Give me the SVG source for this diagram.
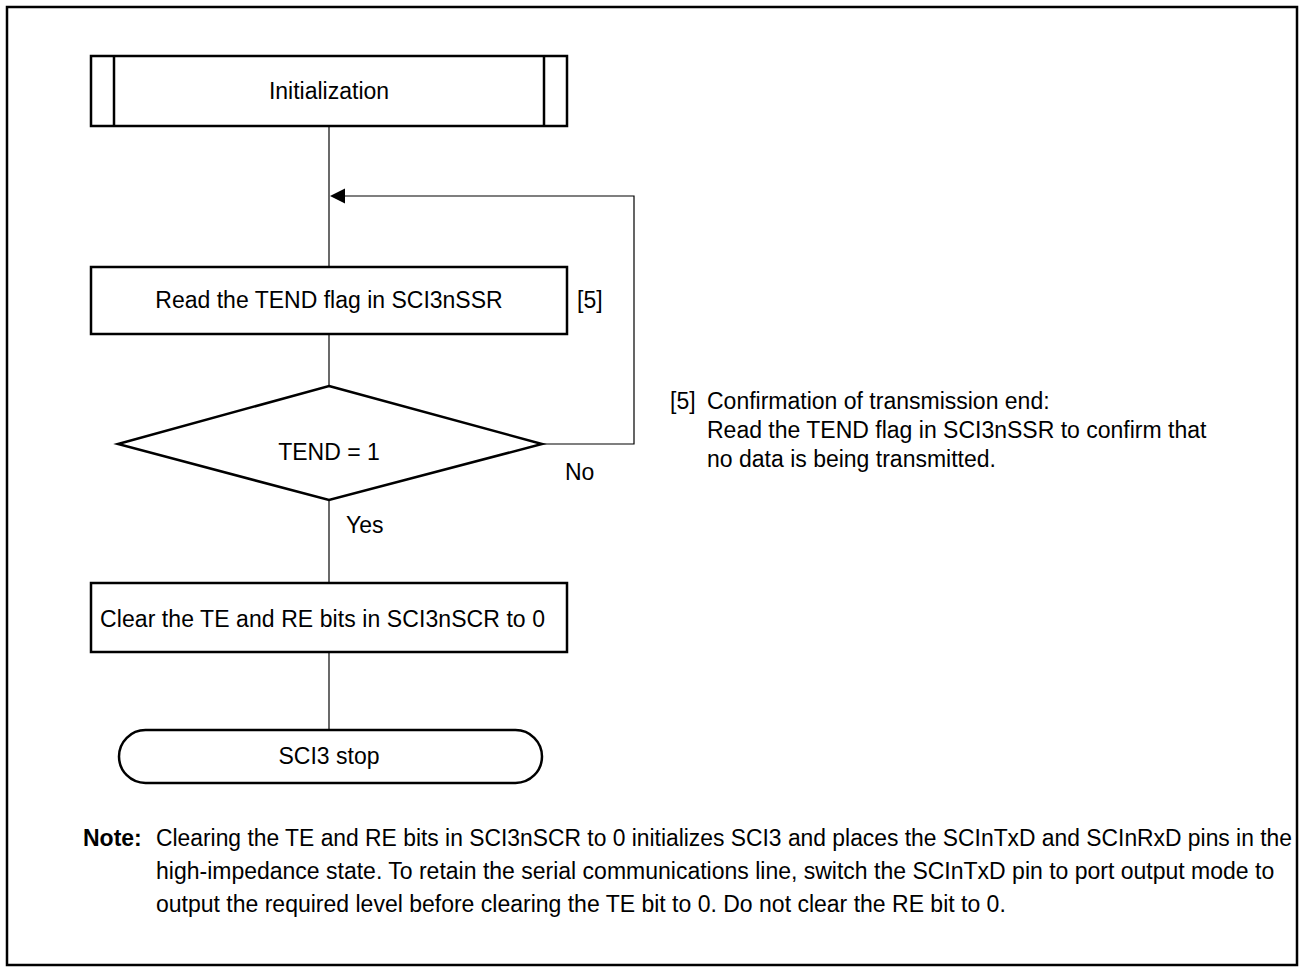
<svg xmlns="http://www.w3.org/2000/svg" width="1304" height="972" viewBox="0 0 1304 972">
<defs>
<style>
.t{font-family:"Liberation Sans",Arial,sans-serif;font-size:23px;fill:#000}
.c{text-anchor:middle}
.box{fill:#fff;stroke:#000;stroke-width:2.5}
.ln{fill:none;stroke:#444;stroke-width:1.6}
.lp{fill:none;stroke:#000;stroke-width:1.2}
</style>
</defs>
<rect x="0" y="0" width="1304" height="972" fill="#fff"/>
<rect x="7" y="7" width="1290" height="958" fill="none" stroke="#000" stroke-width="2.5"/>
<g id="connectors">
<line class="ln" x1="329" y1="126" x2="329" y2="267"/>
<line class="ln" x1="329" y1="334" x2="329" y2="386"/>
<line class="ln" x1="329" y1="500" x2="329" y2="583"/>
<line class="ln" x1="329" y1="652" x2="329" y2="730"/>
<polyline class="lp" points="542,444 634,444 634,196 344,196"/>
<polygon points="330,196 345,188.5 345,203.5" fill="#000"/>
<text class="t" x="565" y="480">No</text>
<text class="t" x="346" y="533">Yes</text>
</g>
<g id="init">
<rect class="box" x="91" y="56" width="476" height="70"/>
<line x1="114" y1="56" x2="114" y2="126" stroke="#000" stroke-width="2.5"/>
<line x1="544" y1="56" x2="544" y2="126" stroke="#000" stroke-width="2.5"/>
<text class="t c" x="329" y="99">Initialization</text>
</g>
<g id="read">
<rect class="box" x="91" y="267" width="476" height="67"/>
<text class="t c" x="329" y="308">Read the TEND flag in SCI3nSSR</text>
<text class="t" x="577" y="308">[5]</text>
</g>
<g id="decision">
<polygon class="box" points="329,386 542,444 329,500 118,444"/>
<text class="t c" x="329" y="460">TEND = 1</text>
</g>
<g id="clear">
<rect class="box" x="91" y="583" width="476" height="69"/>
<text class="t" x="100" y="627" textLength="445">Clear the TE and RE bits in SCI3nSCR to 0</text>
</g>
<g id="stop">
<rect class="box" x="119" y="730" width="423" height="53" rx="26.5"/>
<text class="t c" x="329" y="764">SCI3 stop</text>
</g>
<g id="note5">
<text class="t" x="670" y="409">[5]</text>
<text class="t" x="707" y="409">Confirmation of transmission end:</text>
<text class="t" x="707" y="438">Read the TEND flag in SCI3nSSR to confirm that</text>
<text class="t" x="707" y="467">no data is being transmitted.</text>
</g>
<g id="note">
<text class="t" x="83" y="846" font-weight="bold">Note:</text>
<text class="t" x="156" y="846" textLength="1136" lengthAdjust="spacingAndGlyphs">Clearing the TE and RE bits in SCI3nSCR to 0 initializes SCI3 and places the SCInTxD and SCInRxD pins in the</text>
<text class="t" x="156" y="879">high-impedance state. To retain the serial communications line, switch the SCInTxD pin to port output mode to</text>
<text class="t" x="156" y="912">output the required level before clearing the TE bit to 0. Do not clear the RE bit to 0.</text>
</g>
</svg>
